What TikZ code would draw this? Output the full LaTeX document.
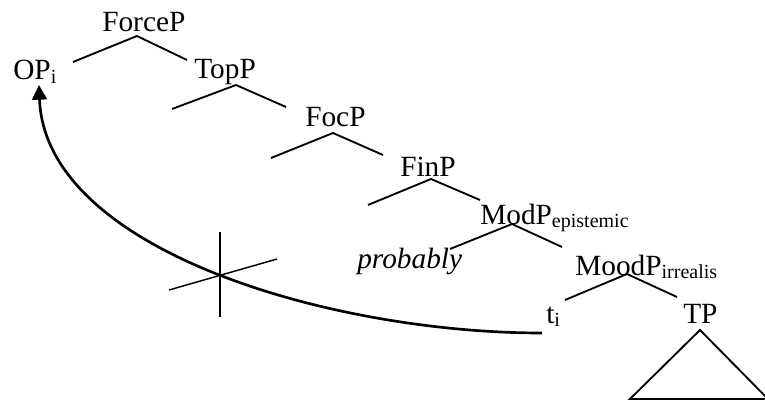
\documentclass[tikz,border=0pt]{standalone}
\usepackage{fontspec}
\setmainfont{Liberation Serif}
\usetikzlibrary{arrows.meta}
\newcommand{\lsub}[1]{\raisebox{-2.5pt}{\fontsize{15pt}{15pt}\selectfont #1}}
\tikzset{
    lbl/.style={anchor=base west, inner sep=0pt, font=\fontsize{22pt}{22pt}\selectfont},
    branch/.style={line width=1.4pt},
    move/.style={line width=2pt, -{Triangle[length=11pt,width=11pt]}}
}
\begin{document}
\begin{tikzpicture}[x=0.75pt, y=-0.75pt]
            \useasboundingbox (0,0) rectangle (765,403);

            \node (ForceP) at (102,32)[lbl]{ForceP};
            \node (OP) at (13,80)[lbl]{OP\lsub{i}};
            \node (TopP) at (194,79)[lbl]{TopP};
            \node (FocP) at (305,127)[lbl]{FocP};
            \node (FinP) at (400,176)[lbl]{FinP};
            \node (ModP) at (480,224)[lbl]{ModP\lsub{epistemic}};
            \node (probably) at (357,268)[lbl]{\textit{probably}};
            \node (MoodP) at (575,275)[lbl]{MoodP\lsub{irrealis}};
            \node (trace) at (546,323)[lbl]{t\lsub{i}};
            \node (TP) at (683,323)[lbl]{TP};

            \coordinate (TopP-spec) at (172,109);
            \coordinate (FocP-spec) at (271,158);
            \coordinate (FinP-spec) at (368,205);
            \coordinate (cross) at (220,276);

            \draw[branch] ([shift={(60,-18)}]OP.base west) -- ([shift={(35,4)}]ForceP.base west) -- ([shift={(-7,-19)}]TopP.base west);
            \draw[branch] (TopP-spec) -- ([shift={(42,6)}]TopP.base west) -- ([shift={(-19,-20)}]FocP.base west);
            \draw[branch] (FocP-spec) -- ([shift={(28,6)}]FocP.base west) -- ([shift={(-17,-21)}]FinP.base west);
            \draw[branch] (FinP-spec) -- ([shift={(31,3)}]FinP.base west) -- ([shift={(0,-24)}]ModP.base west);
            \draw[branch] ([shift={(93,-19)}]probably.base west) -- ([shift={(32,0)}]ModP.base west) -- ([shift={(-13,-28)}]MoodP.base west);
            \draw[branch] ([shift={(19,-23)}]trace.base west) -- ([shift={(52,-1)}]MoodP.base west) -- ([shift={(-6,-26)}]TP.base west);
            \draw[branch] ([shift={(17,7)}]TP.base west) -- ++(-70,69) -- ++(138,0) -- cycle;

            % movement of the operator
            \draw[move] ([shift={(-4,10)}]trace.base west) .. controls (330,333) and (45,250) .. ([shift={(26,5)}]OP.base west);
            \draw[line width=1.1pt] (cross) +(0,-44) -- +(0,41);
            \draw[line width=1.1pt] (cross) +(-51,14) -- +(57,-17);
\end{tikzpicture}
\end{document}
